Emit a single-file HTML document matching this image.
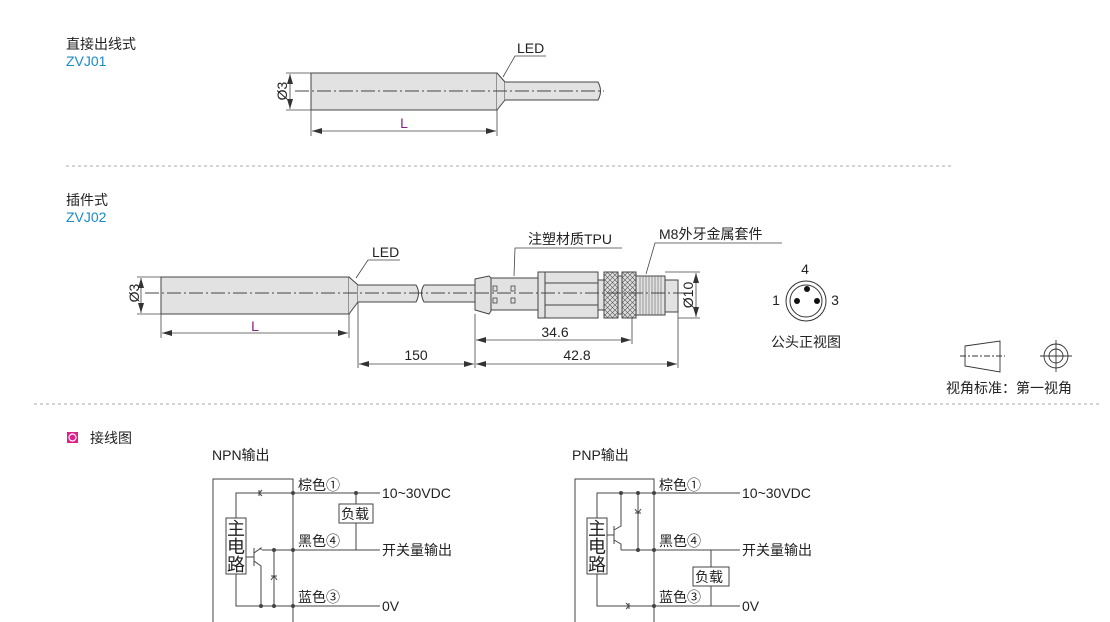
<!DOCTYPE html>
<html><head><meta charset="utf-8"><style>
html,body{margin:0;padding:0;background:#fff;}
svg{display:block;font-family:"Liberation Sans","Noto Sans CJK SC",sans-serif;}
</style></head><body>
<svg width="1110" height="622" viewBox="0 0 1110 622" xmlns="http://www.w3.org/2000/svg">
<defs>
<marker id="a" viewBox="0 0 10 6" refX="10" refY="3" markerWidth="10" markerHeight="6" orient="auto-start-reverse" markerUnits="userSpaceOnUse"><path d="M0,0 L10,3 L0,6 z" fill="#333"/></marker>
<pattern id="k" width="5" height="5" patternUnits="userSpaceOnUse"><rect width="5" height="5" fill="#ddd"/><path d="M0,0L5,5M5,0L0,5" stroke="#555" stroke-width="0.6"/></pattern>
</defs>
<g font-size="14" fill="#222">
<text x="66" y="49">直接出线式</text>
<text x="66" y="66" fill="#1a8ac8">ZVJ01</text>
<text x="66" y="205">插件式</text>
<text x="66" y="222" fill="#1a8ac8">ZVJ02</text>
</g>
<g stroke="#444" stroke-width="1" fill="#e2e2e2">
<rect x="311" y="73" width="186" height="37"/>
<path d="M497,73 L505,82 L505,100 L497,110"/>
<path d="M505,82 L598,82 Q603,91 598,100 L505,100"/>
</g>
<line x1="295" y1="91" x2="604" y2="91" stroke="#444" stroke-dasharray="14,3,2,3"/>
<g stroke="#444" stroke-width="0.8" fill="none">
<line x1="286" y1="73" x2="311" y2="73"/><line x1="286" y1="110" x2="311" y2="110"/>
<line x1="290" y1="74" x2="290" y2="109" marker-start="url(#a)" marker-end="url(#a)"/>
<line x1="311" y1="110" x2="311" y2="136"/><line x1="497" y1="110" x2="497" y2="136"/>
<line x1="312" y1="131" x2="496" y2="131" marker-start="url(#a)" marker-end="url(#a)"/>
<polyline points="546,56 515,56 503,77"/>
</g>
<text x="404" y="128" font-size="14" fill="#8a1f8a" text-anchor="middle">L</text>
<text x="517" y="53" font-size="14" fill="#222">LED</text>
<text transform="translate(287,91) rotate(-90)" font-size="14" text-anchor="middle" fill="#222">Ø3</text>
<line x1="66" y1="166" x2="952" y2="166" stroke="#aaa" stroke-dasharray="3,3"/>
<g stroke="#444" stroke-width="1" fill="#e2e2e2">
<rect x="161" y="277" width="188" height="37"/>
<path d="M349,277 L358,285 L358,302 L349,314"/>
<path d="M358,285 L416,285 Q421,293 416,302 L358,302"/>
<path d="M424,285 L475,285 L475,302 L424,302 Q419,293 424,285"/>
<path d="M475,279 L489,276 L491,278 L491,311 L489,314 L475,310 z"/>
<rect x="491" y="278" width="47" height="32"/>
<rect x="538" y="272" width="60" height="46"/>
<rect x="545" y="272" width="53" height="46"/>
<rect x="545" y="283" width="53" height="22"/>
<rect x="598" y="280" width="6" height="30"/>
<rect x="604" y="272" width="14" height="46" fill="url(#k)"/>
<rect x="618" y="276" width="4" height="38"/>
<rect x="622" y="272" width="14" height="46" fill="url(#k)"/>
<rect x="636" y="276" width="29" height="39"/>
<rect x="665" y="280" width="13" height="32"/>
</g>
<g stroke="#666" stroke-width="0.6">
<path d="M640,276V315M643,276V315M646,276V315M649,276V315M652,276V315M655,276V315M658,276V315M661,276V315"/>
</g>
<g fill="none" stroke="#444" stroke-width="0.8">
<rect x="493" y="286" width="4" height="5"/><rect x="493" y="298" width="4" height="5"/>
<rect x="511" y="286" width="4" height="5"/><rect x="511" y="298" width="4" height="5"/>
</g>
<line x1="145" y1="293" x2="690" y2="293" stroke="#444" stroke-dasharray="14,3,2,3"/>
<g stroke="#444" stroke-width="0.8" fill="none">
<line x1="137" y1="277" x2="161" y2="277"/><line x1="137" y1="314" x2="161" y2="314"/>
<line x1="141" y1="278" x2="141" y2="313" marker-start="url(#a)" marker-end="url(#a)"/>
<line x1="161" y1="314" x2="161" y2="338"/><line x1="349" y1="314" x2="349" y2="338"/>
<line x1="162" y1="333" x2="348" y2="333" marker-start="url(#a)" marker-end="url(#a)"/>
<line x1="358" y1="302" x2="358" y2="368"/><line x1="475" y1="314" x2="475" y2="368"/>
<line x1="632" y1="318" x2="632" y2="344"/><line x1="678" y1="312" x2="678" y2="368"/>
<line x1="359" y1="364" x2="474" y2="364" marker-start="url(#a)" marker-end="url(#a)"/>
<line x1="476" y1="340" x2="631" y2="340" marker-start="url(#a)" marker-end="url(#a)"/>
<line x1="476" y1="364" x2="677" y2="364" marker-start="url(#a)" marker-end="url(#a)"/>
<line x1="665" y1="272" x2="700" y2="272"/><line x1="678" y1="318" x2="700" y2="318"/>
<line x1="696" y1="273" x2="696" y2="317" marker-start="url(#a)" marker-end="url(#a)"/>
<polyline points="400,260 368,260 356,278"/>
<polyline points="622,248 515,248 514,276"/>
<polyline points="782,243 655,243 646,274"/>
</g>
<g font-size="14" fill="#222">
<text x="255" y="331" fill="#8a1f8a" text-anchor="middle">L</text>
<text transform="translate(139,293) rotate(-90)" text-anchor="middle">Ø3</text>
<text transform="translate(693,295) rotate(-90)" text-anchor="middle">Ø10</text>
<text x="416" y="360" text-anchor="middle">150</text>
<text x="555" y="337" text-anchor="middle">34.6</text>
<text x="577" y="360" text-anchor="middle">42.8</text>
<text x="372" y="257">LED</text>
<text x="528" y="244">注塑材质TPU</text>
<text x="659" y="239">M8外牙金属套件</text>
<text x="805" y="274" text-anchor="middle">4</text>
<text x="776" y="305" text-anchor="middle">1</text>
<text x="835" y="305" text-anchor="middle">3</text>
<text x="806" y="347" text-anchor="middle">公头正视图</text>
<text x="946" y="393">视角标准：第一视角</text>
</g>
<g stroke="#333" fill="none">
<circle cx="806" cy="301" r="20"/><circle cx="806" cy="301" r="16"/>
</g>
<g fill="#111"><circle cx="807" cy="289" r="3"/><circle cx="797" cy="301" r="3"/><circle cx="817" cy="301" r="3"/></g>
<g stroke="#333" stroke-width="0.9" fill="none">
<path d="M965,346 L1000,341 L1000,372 L965,366 z"/>
<line x1="960" y1="356" x2="1005" y2="356" stroke-dasharray="6,2,2,2"/>
<circle cx="1056" cy="356" r="12"/><circle cx="1056" cy="356" r="7"/>
<line x1="1040" y1="356" x2="1072" y2="356"/><line x1="1056" y1="340" x2="1056" y2="372"/>
</g>
<line x1="34" y1="404" x2="1100" y2="404" stroke="#aaa" stroke-dasharray="3,3"/>
<rect x="67" y="432" width="11" height="11" fill="#e0208a"/>
<circle cx="72.5" cy="437.5" r="3.5" fill="none" stroke="#fff" stroke-width="1.2"/>
<text x="90" y="443" font-size="14" fill="#222">接线图</text>
<g font-size="14" fill="#222">
<text x="212" y="460">NPN输出</text>
<text x="572" y="460">PNP输出</text>
</g>
<g stroke="#444" stroke-width="1" fill="none">
<polyline points="213,622 213,479 293,479 293,622"/>
<polyline points="236,518 236,493 380,493"/>
<line x1="262" y1="550" x2="380" y2="550"/>
<polyline points="236,574 236,606 380,606"/>
<line x1="356" y1="493" x2="356" y2="504"/><line x1="356" y1="523" x2="356" y2="550"/>
<rect x="339" y="504" width="34" height="19"/>
<rect x="226" y="518" width="20" height="56"/>
<line x1="246" y1="557" x2="254" y2="557"/><line x1="254" y1="548" x2="254" y2="566"/>
<polyline points="254,553 261,548 261,550"/><polyline points="254,561 261,566 261,606"/>
<line x1="274" y1="550" x2="274" y2="606"/>
<path d="M259,490 L259,496 M262,490 L259,493 L262,496" />
<path d="M271,576 L277,576 M271,580 L274,576 L277,580"/>
</g>
<g fill="#444"><circle cx="293" cy="493" r="2"/><circle cx="356" cy="493" r="2"/><circle cx="274" cy="550" r="2"/><circle cx="293" cy="550" r="2"/><circle cx="261" cy="606" r="2"/><circle cx="274" cy="606" r="2"/><circle cx="293" cy="606" r="2"/></g>
<g font-size="14" fill="#222">
<text x="298" y="490">棕色①</text><text x="298" y="546">黑色④</text><text x="298" y="602">蓝色③</text>
<text x="382" y="498">10~30VDC</text><text x="382" y="555">开关量输出</text><text x="382" y="611">0V</text>
<text x="341" y="519">负载</text>
</g>
<g font-size="18" fill="#222">
<text x="227" y="535">主</text><text x="227" y="553">电</text><text x="227" y="571">路</text>
</g>
<g stroke="#444" stroke-width="1" fill="none">
<polyline points="575,622 575,479 654,479 654,622"/>
<polyline points="597,518 597,493 740,493"/>
<line x1="621" y1="550" x2="740" y2="550"/>
<polyline points="597,574 597,606 740,606"/>
<line x1="711" y1="550" x2="711" y2="567"/><line x1="711" y1="586" x2="711" y2="606"/>
<rect x="693" y="567" width="36" height="19"/>
<rect x="587" y="518" width="20" height="56"/>
<line x1="607" y1="535" x2="614" y2="535"/><line x1="614" y1="526" x2="614" y2="544"/>
<polyline points="614,530 621,526 621,493"/><polyline points="614,540 621,544 621,550"/>
<line x1="638" y1="493" x2="638" y2="550"/>
<path d="M635,513 L641,513 M635,509 L638,513 L641,509"/>
<path d="M629,603 L629,609 M626,603 L629,606 L626,609"/>
</g>
<g fill="#444"><circle cx="621" cy="493" r="2"/><circle cx="638" cy="493" r="2"/><circle cx="654" cy="493" r="2"/><circle cx="638" cy="550" r="2"/><circle cx="654" cy="550" r="2"/><circle cx="654" cy="606" r="2"/></g>
<g font-size="14" fill="#222">
<text x="659" y="490">棕色①</text><text x="659" y="546">黑色④</text><text x="659" y="602">蓝色③</text>
<text x="742" y="498">10~30VDC</text><text x="742" y="555">开关量输出</text><text x="742" y="611">0V</text>
<text x="695" y="582">负载</text>
</g>
<g font-size="18" fill="#222">
<text x="588" y="535">主</text><text x="588" y="553">电</text><text x="588" y="571">路</text>
</g>
</svg>
</body></html>
